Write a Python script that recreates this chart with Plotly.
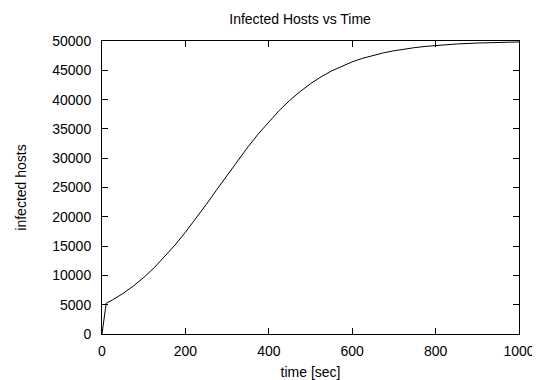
import plotly.graph_objects as go

# time [sec] and infected hosts
time_sec = [0, 10, 25, 50, 75, 100, 125, 150, 175, 200, 225, 250, 275, 300, 325,
            350, 375, 400, 425, 450, 475, 500, 525, 550, 575, 600, 625, 650, 675,
            700, 725, 750, 775, 800, 850, 900, 950, 1000]
infected = [0, 5250, 5800, 6900, 8180, 9640, 11290, 13140, 15170, 17360, 19690,
            22110, 24610, 27100, 29550, 31920, 34160, 36240, 38140, 39850, 41370,
            42710, 43870, 44870, 45720, 46440, 47050, 47560, 47980, 48330, 48630,
            48870, 49070, 49240, 49490, 49650, 49770, 49840]

x_ticks = [0, 200, 400, 600, 800, 1000]
x_tick_labels = ["0", "200", "400", "600", "800", "1000"]
y_ticks = [0, 5000, 10000, 15000, 20000, 25000, 30000, 35000, 40000, 45000, 50000]
y_tick_labels = ["0", "5000", "10000", "15000", "20000", "25000", "30000",
                 "35000", "40000", "45000", "50000"]

FONT = "Liberation Sans, Arial, Helvetica, sans-serif"

fig = go.Figure()
fig.add_trace(go.Scatter(x=time_sec, y=infected, mode="lines",
                         line=dict(color="black", width=1), showlegend=False))

axis_common = dict(showline=True, linecolor="black", linewidth=1, mirror="allticks",
                   ticks="inside", ticklen=6, tickcolor="black", tickwidth=1,
                   showgrid=False, zeroline=False, automargin=False,
                   tickfont=dict(family=FONT, size=14, color="black"))

fig.update_xaxes(range=[0, 1000], tickvals=x_ticks, ticktext=x_tick_labels,
                 ticklabelstandoff=4,
                 title=dict(text="time [sec]", font=dict(family=FONT, size=14, color="black"), standoff=12),
                 **axis_common)
fig.update_yaxes(range=[0, 50000], tickvals=y_ticks, ticktext=y_tick_labels,
                 ticklabelstandoff=7,
                 title=dict(text="infected hosts", font=dict(family=FONT, size=14, color="black"), standoff=22),
                 **axis_common)

# the page body has an 8px default margin, so the figure is sized/offset for it
fig.update_layout(
    width=532, height=372,
    margin=dict(l=94, r=21, t=33, b=46, autoexpand=False),
    paper_bgcolor="white", plot_bgcolor="white",
    font=dict(family=FONT, size=14, color="black"),
    title=dict(text="Infected Hosts vs Time", x=0.549, xanchor="center",
               y=0.970, yanchor="middle", yref="container",
               font=dict(family=FONT, size=14, color="black")),
)

fig.write_html("out.html")
